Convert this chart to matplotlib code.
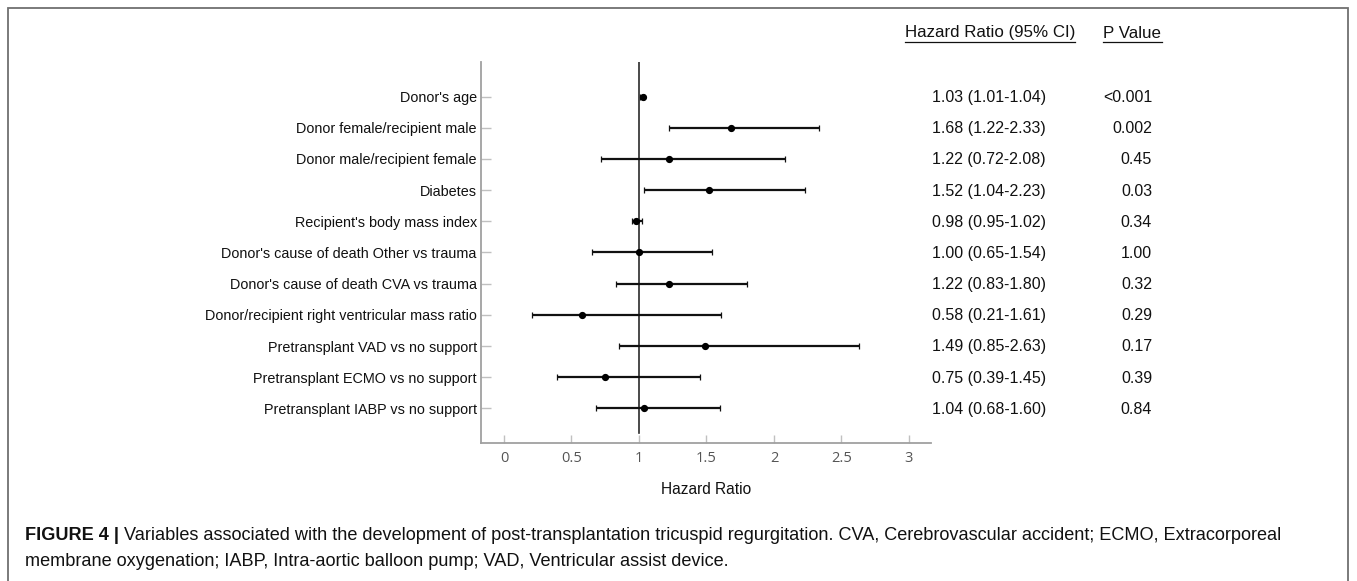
import matplotlib
matplotlib.use("Agg")
import matplotlib.pyplot as plt
import numpy as np
from matplotlib.transforms import blended_transform_factory
from matplotlib.patches import Rectangle
from matplotlib.lines import Line2D

labels = [
    "Donor's age",
    "Donor female/recipient male",
    "Donor male/recipient female",
    "Diabetes",
    "Recipient's body mass index",
    "Donor's cause of death Other vs trauma",
    "Donor's cause of death CVA vs trauma",
    "Donor/recipient right ventricular mass ratio",
    "Pretransplant VAD vs no support",
    "Pretransplant ECMO vs no support",
    "Pretransplant IABP vs no support",
]
hr = [1.03, 1.68, 1.22, 1.52, 0.98, 1.00, 1.22, 0.58, 1.49, 0.75, 1.04]
ci_low = [1.01, 1.22, 0.72, 1.04, 0.95, 0.65, 0.83, 0.21, 0.85, 0.39, 0.68]
ci_high = [1.04, 2.33, 2.08, 2.23, 1.02, 1.54, 1.80, 1.61, 2.63, 1.45, 1.60]
p_values = ["<0.001", "0.002", "0.45", "0.03", "0.34", "1.00", "0.32", "0.29", "0.17", "0.39", "0.84"]
x_ticks = [0, 0.5, 1, 1.5, 2, 2.5, 3]
x_tick_labels = ["0", "0.5", "1", "1.5", "2", "2.5", "3"]

W, H = 1357, 581
fig = plt.figure(figsize=(W / 100, H / 100), dpi=100)

def fx(px):
    return px / W

def fy(py):
    return 1 - py / H

# outer frame
fig.patches.append(Rectangle((fx(8), fy(600)), fx(1348) - fx(8), fy(8) - fy(600),
                             transform=fig.transFigure, fill=False,
                             edgecolor="#707070", linewidth=1.3, clip_on=False))

ax = fig.add_axes([fx(481), fy(443), fx(931) - fx(481), fy(62) - fy(443)])
y = np.arange(len(labels))
hr_a = np.array(hr)
err = np.vstack([hr_a - np.array(ci_low), np.array(ci_high) - hr_a])

ax.axvline(1, ymin=(11.11 - 10.8) / 12.22, ymax=1, color="#2a2a2a", lw=1.2, zorder=1)
ax.errorbar(hr, y, xerr=err, fmt="o", color="black", ecolor="#111111",
            elinewidth=1.6, capsize=2.2, capthick=0.9, markersize=4.2, zorder=3)

ax.set_xlim(-0.17, 3.163)
ax.set_ylim(11.11, -1.11)
ax.set_yticks(y)
ax.set_yticklabels(labels, family=["Liberation Sans", "DejaVu Sans"], fontsize=10.4, color="#111111")
ax.set_xticks(x_ticks)
ax.set_xticklabels(x_tick_labels, family=["Open Sans", "DejaVu Sans"], fontsize=10.5, color="#555555")
for s in ["top", "right"]:
    ax.spines[s].set_visible(False)
for s in ["left", "bottom"]:
    ax.spines[s].set_color("#a0a0a0")
    ax.spines[s].set_linewidth(1.3)
ax.tick_params(axis="y", direction="in", length=7, width=1, color="#c0c0c0", pad=3)
ax.tick_params(axis="x", direction="in", length=6, width=1, color="#c0c0c0", pad=6)
ax.set_xlabel("Hazard Ratio", family=["Liberation Sans", "DejaVu Sans"], fontsize=11.2, color="#111111", labelpad=11)

tr = blended_transform_factory(fig.transFigure, ax.transData)
for i in range(len(labels)):
    ax.text(fx(932), y[i] + 0.03, f"{hr[i]:.2f} ({ci_low[i]:.2f}-{ci_high[i]:.2f})", transform=tr,
            ha="left", va="center", family="Liberation Sans", fontsize=11.5, color="#111111", clip_on=False)
    ax.text(fx(1152), y[i] + 0.03, p_values[i], transform=tr,
            ha="right", va="center", family="Liberation Sans", fontsize=11.5, color="#111111", clip_on=False)

fig.text(fx(905), fy(33), "Hazard Ratio (95% CI)", ha="left", va="center",
         family="Liberation Sans", fontsize=12.2, color="#111111")
fig.text(fx(1103), fy(33), "P Value", ha="left", va="center",
         family="Liberation Sans", fontsize=12.2, color="#111111")
fig.add_artist(Line2D([fx(905), fx(1075)], [fy(42), fy(42)], color="#111111", lw=0.9))
fig.add_artist(Line2D([fx(1103), fx(1162)], [fy(42), fy(42)], color="#111111", lw=0.9))

# caption
cap_fs = 13.05
bold = fig.text(fx(25), fy(536), "FIGURE 4 | ", ha="left", va="center", weight="bold",
                family="Liberation Sans", fontsize=cap_fs, color="#111111")
fig.canvas.draw()
bb = bold.get_window_extent(renderer=fig.canvas.get_renderer())
fig.text(bb.x1 / W, fy(536),
         "Variables associated with the development of post-transplantation tricuspid regurgitation. CVA, Cerebrovascular accident; ECMO, Extracorporeal",
         ha="left", va="center", family="Liberation Sans", fontsize=cap_fs, color="#111111")
fig.text(fx(25), fy(562),
         "membrane oxygenation; IABP, Intra-aortic balloon pump; VAD, Ventricular assist device.",
         ha="left", va="center", family="Liberation Sans", fontsize=cap_fs, color="#111111")

fig.savefig("out.png", dpi=100)
